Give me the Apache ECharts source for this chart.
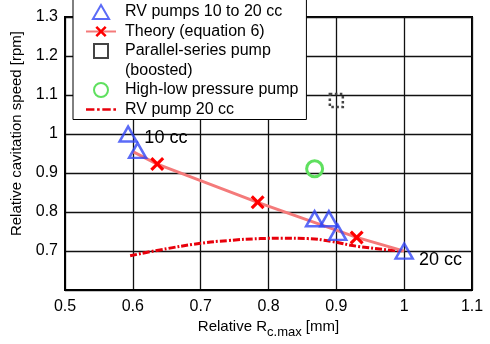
<!DOCTYPE html>
<html><head><meta charset="utf-8">
<script src="https://cdn.jsdelivr.net/npm/echarts@6/dist/echarts.min.js"></script>
<style>html,body{margin:0;padding:0;background:#fff}#c{width:490px;height:344px}</style>
</head><body><div id="c"></div>
<script>
// Data
const rvPumps = [[0.593, 1.0], [0.607, 0.958], [0.868, 0.783], [0.889, 0.783], [0.902, 0.748], [1.0, 0.700]];
const theoryLine = [[0.600, 0.955], [0.636, 0.923], [0.784, 0.825], [0.930, 0.735], [1.0, 0.700]];
const theoryMarked = [false, true, true, true, false];
const parallelSeries = [[0.9, 1.086]];
const highLow = [[0.868, 0.911]];
const rv20 = [[0.596, 0.688], [0.64, 0.703], [0.70, 0.720], [0.74, 0.727], [0.788, 0.732], [0.822, 0.733], [0.858, 0.732], [0.892, 0.725], [0.932, 0.712], [0.996, 0.700]];
const annotations = [{name: '10 cc', value: [0.617, 0.99]}, {name: '20 cc', value: [1.022, 0.678]}];
const xTicks = [0.5, 0.6, 0.7, 0.8, 0.9, 1, 1.1];
const yTickLabels = ['', '0.7', '0.8', '0.9', '1', '1.1', '1.2', '1.3'];
const seriesNames = ['RV pumps 10 to 20 cc', 'Theory (equation 6)', 'Parallel-series pump', '(boosted)', 'High-low pressure pump', 'RV pump 20 cc'];

const F = 'Liberation Sans, Arial, sans-serif';
const xPath = 'path://M0,1.6L1.6,0L5,3.4L8.4,0L10,1.6L6.6,5L10,8.4L8.4,10L5,6.6L1.6,10L0,8.4L3.4,5Z';
const triPath = 'path://M5,0L10,8.66L0,8.66Z';
const sqPath = 'path://M0,0L10,0L10,10L0,10Z';
const dashDotPath = 'path://M0,0h8v2.6h-8zM10.5,0h2.5v2.6h-2.5zM15.5,0h8v2.6h-8zM26,0h2.5v2.6h-2.5z';
const chart = echarts.init(document.getElementById('c'));
chart.setOption({
  animation: false,
  textStyle: {fontFamily: F},
  grid: {left: 65, right: 18, top: 17, bottom: 50, show: true, borderColor: '#000', borderWidth: 2},
  xAxis: {
    type: 'value', min: xTicks[0], max: xTicks[xTicks.length - 1], interval: 0.1,
    axisLine: {lineStyle: {color: '#000', width: 2}},
    axisTick: {show: false},
    splitLine: {lineStyle: {color: '#111', width: 1.3}},
    axisLabel: {color: '#000', fontSize: 16, fontFamily: F, margin: 8},
    name: '{a|Relative R}{b|c.max}{a| [mm]}', nameLocation: 'middle', nameGap: 22,
    nameTextStyle: {rich: {a: {fontSize: 15, fontFamily: F, color: '#000'}, b: {fontSize: 13, fontFamily: F, color: '#000', padding: [12, 0, 0, 0]}}}
  },
  yAxis: {
    type: 'value', min: 0.6, max: 1.3, interval: 0.1,
    axisLine: {lineStyle: {color: '#000', width: 2}},
    axisTick: {show: false},
    splitLine: {lineStyle: {color: '#111', width: 1.3}},
    axisLabel: {color: '#000', fontSize: 16, fontFamily: F, margin: 7,
      formatter: v => yTickLabels[Math.round((v - 0.6) * 10)]},
    name: 'Relative cavitation speed [rpm]', nameLocation: 'middle', nameGap: 28,
    nameTextStyle: {fontSize: 15, fontFamily: F, color: '#000', padding: [0, 0, 0, 40]}
  },
  legend: {
    orient: 'vertical', left: 73, top: -2, itemWidth: 30, itemHeight: 14, itemGap: 3.5,
    backgroundColor: '#fff', borderColor: '#000', borderWidth: 1, borderRadius: 0,
    padding: [6, 8, 2, 12], symbolKeepAspect: true,
    textStyle: {fontSize: 16, fontFamily: F, color: '#000', padding: [0, 0, 0, 4]},
    data: [
      {name: seriesNames[0], icon: triPath}, {name: seriesNames[1]}, {name: seriesNames[2], icon: sqPath},
      {name: seriesNames[3], icon: 'rect', itemStyle: {color: 'rgba(0,0,0,0)', borderWidth: 0, opacity: 0}},
      {name: seriesNames[4], icon: 'circle'}, {name: seriesNames[5], icon: dashDotPath}
    ],
    z: 10
  },
  series: [
    {name: seriesNames[5], type: 'line', data: rv20, smooth: true, symbol: 'none',
      lineStyle: {color: '#e8000b', width: 3, type: [7, 2, 2, 2]}, itemStyle: {color: '#e8000b'}},
    {name: seriesNames[1], type: 'line', z: 3,
      data: theoryLine.map((p, i) => theoryMarked[i] ? {value: p} : {value: p, symbol: 'none'}),
      symbol: xPath, symbolSize: 14,
      lineStyle: {color: '#f47a7a', width: 3}, itemStyle: {color: '#ff0000'}},
    {name: seriesNames[0], type: 'scatter', data: rvPumps, symbol: 'triangle', symbolSize: [17, 15], z: 4,
      itemStyle: {color: 'rgba(0,0,0,0)', borderColor: 'rgba(50,70,245,0.8)', borderWidth: 2.5, opacity: 1}},
    {name: seriesNames[2], type: 'scatter', data: parallelSeries, symbol: 'rect', symbolSize: 13,
      itemStyle: {color: 'rgba(0,0,0,0)', borderColor: '#444', borderWidth: 2.5, borderType: 'dotted', opacity: 1}},
    {name: seriesNames[3], type: 'scatter', data: [[2, 2]], symbolSize: 0, itemStyle: {color: 'rgba(0,0,0,0)'}},
    {name: seriesNames[4], type: 'scatter', data: highLow, symbol: 'circle', symbolSize: 16,
      itemStyle: {color: 'rgba(0,0,0,0)', borderColor: '#5fe05f', borderWidth: 3, opacity: 1}},
    {name: 'labels', type: 'scatter', data: annotations, symbolSize: 0, silent: true,
      itemStyle: {color: '#000', opacity: 1},
      label: {show: true, position: 'right', distance: 0, formatter: p => p.name, fontSize: 18, fontFamily: F, color: '#000', opacity: 1}}
  ]
});
</script></body></html>
